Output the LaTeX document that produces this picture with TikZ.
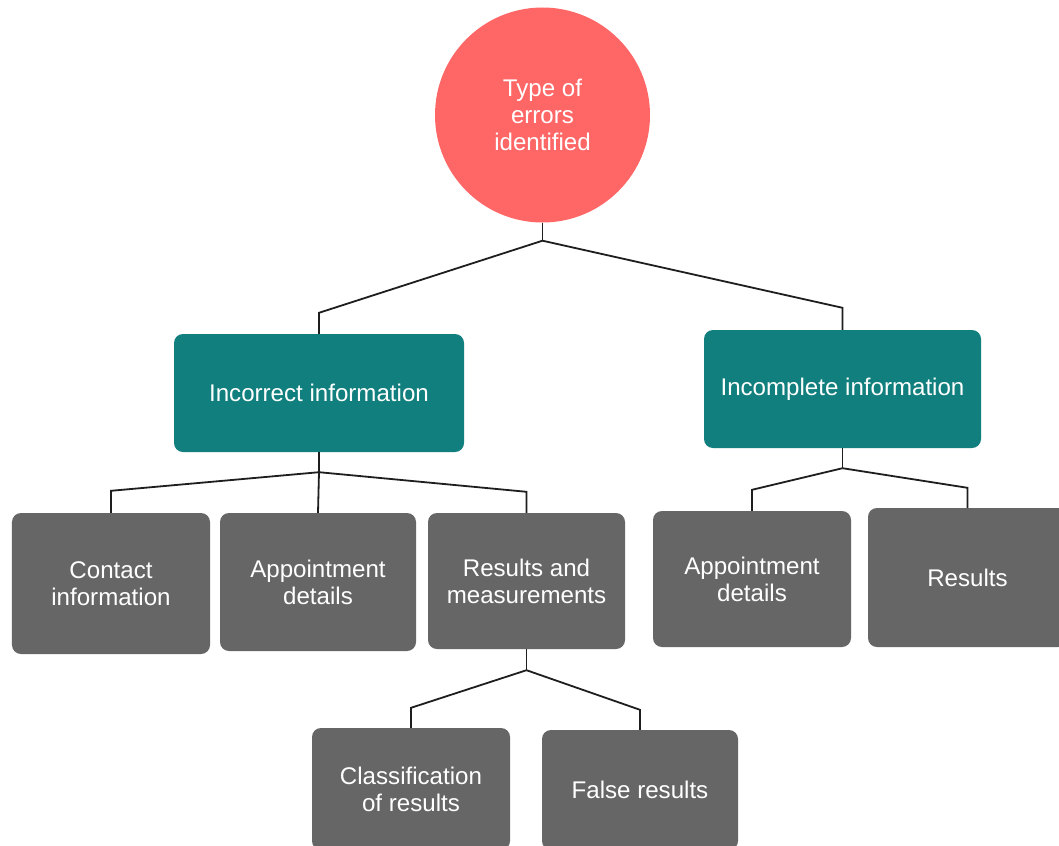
\documentclass[tikz,border=0pt]{standalone}
\usepackage{fontspec}
\setmainfont{Liberation Sans}
\usetikzlibrary{calc}
\definecolor{rootred}{HTML}{FF6666}
\definecolor{tealbox}{HTML}{107F7D}
\definecolor{greybox}{HTML}{666666}
\definecolor{linecol}{HTML}{1E1E1E}
\tikzset{
  lbl/.style={text=white, font=\fontsize{24.2}{27}\selectfont, align=center, inner sep=0pt},
  rootnode/.style={lbl, circle, fill=rootred, minimum size=215bp},
  catbox/.style={lbl, rectangle, rounded corners=9bp, fill=tealbox},
  leafbox/.style={lbl, rectangle, rounded corners=9bp, fill=greybox},
  conn/.style={draw=linecol, line width=1.8bp, line join=miter}
}
\begin{document}
\begin{tikzpicture}[x=1bp, y=-1bp]
\useasboundingbox (0,0) rectangle (1059,846);
\fill[white] (0,0) rectangle (1059,846);

\node[rootnode] (root) at (542.5,115) {Type of\\errors\\identified};

\node[catbox, minimum width=290bp, minimum height=118bp] (inc) at (319,393) {Incorrect information};
\node[catbox, minimum width=277bp, minimum height=118bp] (incp) at (842.5,389) {Incomplete information};

\node[leafbox, minimum width=198bp, minimum height=141bp] (contact) at (111,583.5) {Contact\\information};
\node[leafbox, minimum width=196bp, minimum height=138bp] (appta) at (318,582) {Appointment\\details};
\node[leafbox, minimum width=197bp, minimum height=136bp] (resm) at (526.5,581) {Results and\\measurements};

\node[leafbox, minimum width=198bp, minimum height=136bp] (apptb) at (752,579) {Appointment\\details};
\node[leafbox, minimum width=199bp, minimum height=139bp] (res) at (967.5,577.5) {Results};

\node[leafbox, minimum width=198bp, minimum height=122bp] (classif) at (411,789) {Classification\\of results};
\node[leafbox, minimum width=196bp, minimum height=120bp] (falseres) at (640,790) {False results};

% root to categories
\draw[conn] (root.south) -- ++(0,18) coordinate (j0);
\draw[conn] (j0) -- ($(inc.north)+(0,-21)$) -- (inc.north);
\draw[conn] (j0) -- ($(incp.north)+(0,-22)$) -- (incp.north);

% incorrect information
\draw[conn] (inc.south) -- ++(0,20) coordinate (j1);
\draw[conn] (j1) -- ($(contact.north)+(0,-22)$) -- (contact.north);
\draw[conn] (j1) -- (appta.north);
\draw[conn] (j1) -- ($(resm.north)+(0,-21)$) -- (resm.north);

% incomplete information
\draw[conn] (incp.south) -- ++(0,20) coordinate (j2);
\draw[conn] (j2) -- ($(apptb.north)+(0,-21)$) -- (apptb.north);
\draw[conn] (j2) -- ($(res.north)+(0,-20)$) -- (res.north);

% results and measurements
\draw[conn] (resm.south) -- ++(0,21) coordinate (j3);
\draw[conn] (j3) -- ($(classif.north)+(0,-20)$) -- (classif.north);
\draw[conn] (j3) -- ($(falseres.north)+(0,-20)$) -- (falseres.north);
\end{tikzpicture}
\end{document}
